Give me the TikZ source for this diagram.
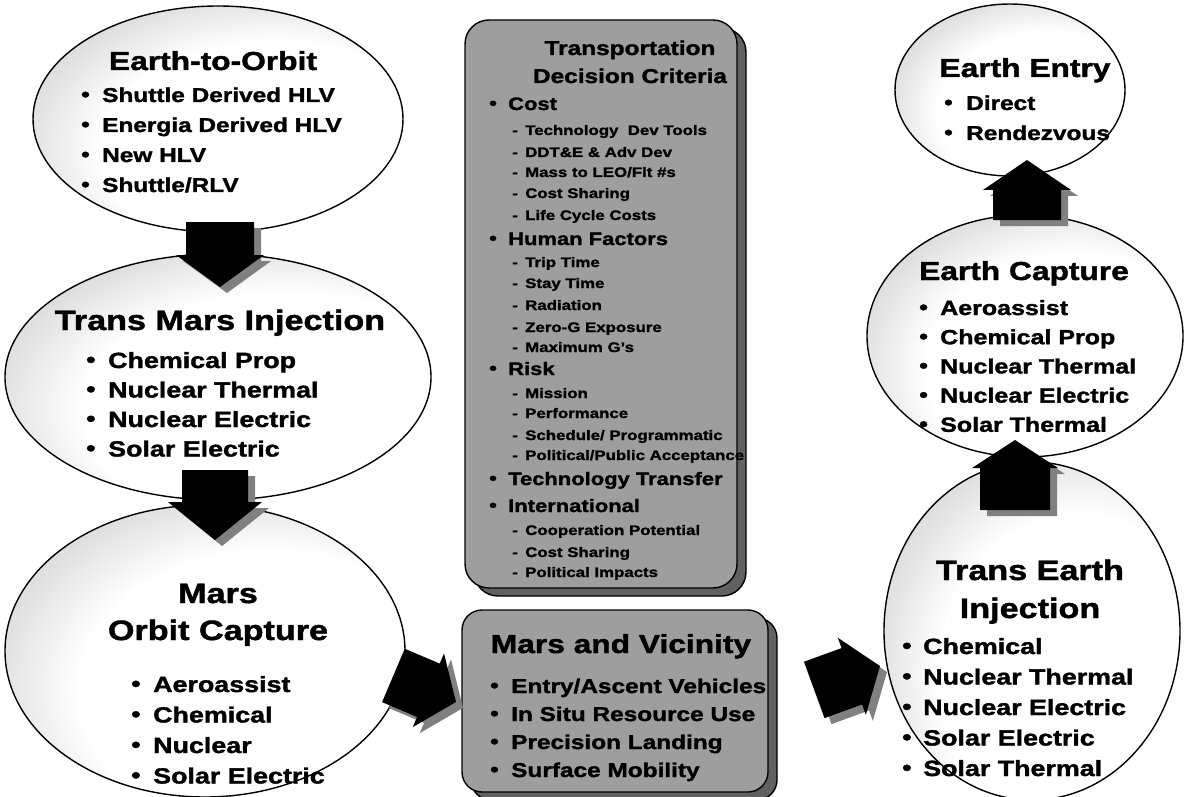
\documentclass[tikz,border=0pt]{standalone}
\usepackage{fontspec}
\setmainfont{Liberation Sans}[FakeStretch=1.22, BoldFeatures={FakeBold=1.6}]
\usetikzlibrary{shapes.geometric}

% light centre, grey rim
\pgfdeclareradialshading{ellshade}{\pgfpoint{12bp}{-10bp}}{%
  color(0bp)=(white); color(24bp)=(white); color(40bp)=(black!22);
  color(50bp)=(black!42); color(75bp)=(black!42)}

\newcommand{\bsym}[1]{\makebox[#1pt][l]{\raisebox{0.04em}{•}}}
\newcommand{\dsym}[1]{\makebox[#1pt][l]{-}}

% block arrow: tip x, tip y, angle, length, shaft half width, head half width, head length
\newcommand{\blockarrow}[7]{%
  \begin{scope}[shift={(#1+7,#2+6)},rotate=#3]
    \fill[arrside] (0,0) -- (-#6,-#7) -- (-#5,-#7) -- (-#5,-#4) -- (#5,-#4) -- (#5,-#7) -- (#6,-#7) -- cycle;
  \end{scope}
  \begin{scope}[shift={(#1,#2)},rotate=#3]
    \fill[arrface] (0,0) -- (-#6,-#7) -- (-#5,-#7) -- (-#5,-#4) -- (#5,-#4) -- (#5,-#7) -- (#6,-#7) -- cycle;
  \end{scope}}

\tikzset{
  ell/.style={ellipse, draw=black, line width=1.4pt, shade, shading=ellshade, inner sep=0pt, outer sep=0pt},
  critbox/.style={draw=black, line width=1.4pt, fill=black!38, rounded corners=24pt, inner sep=0pt},
  boxshadow/.style={draw=black, line width=1.4pt, fill=black!62, rounded corners=24pt, inner sep=0pt},
  ttl/.style={anchor=base, inner sep=0pt, font=\bfseries},
  itm/.style={anchor=base west, inner sep=0pt, font=\bfseries},
  arrface/.style={fill=black},
  arrside/.style={fill=black!50},
}

\begin{document}
\begin{tikzpicture}[x=1pt,y=-1pt]
\useasboundingbox (0,0) rectangle (1184,797);
\fill[white] (0,0) rectangle (1184,797);

% ---------- ellipses ----------
\node[ell, minimum width=370pt, minimum height=226pt] (eto)  at (218,119) {};
\node[ell, minimum width=426pt, minimum height=246pt] (tmi)  at (218,377) {};
\node[ell, minimum width=400pt, minimum height=292pt] (moc)  at (205,651) {};
\node[ell, minimum width=230pt, minimum height=172pt] (ent)  at (1010,90) {};
\node[ell, minimum width=316pt, minimum height=242pt] (ecap) at (1025,336) {};
\node[ell, minimum width=296pt, minimum height=338pt] (tei)  at (1032,631) {};

% ---------- central boxes ----------
\node[boxshadow, minimum width=272pt, minimum height=568pt] (critsh) at (610,312) {};
\node[critbox,   minimum width=272pt, minimum height=568pt] (crit)   at (601,304) {};
\node[boxshadow, minimum width=306pt, minimum height=182pt, rounded corners=20pt] (marssh) at (624,709) {};
\node[critbox,   minimum width=306pt, minimum height=182pt, rounded corners=20pt] (mars)   at (615,701) {};

% ---------- arrows ----------
\blockarrow{220}{287}{0}{65}{34}{44}{32}
\blockarrow{215}{540}{0}{70}{33}{47}{38}
\blockarrow{456}{702}{67}{68}{29}{40}{30}
\blockarrow{880}{666}{110}{70}{30}{41}{30}
\blockarrow{1027}{160}{180}{60}{34}{44}{30}
\blockarrow{1015}{440}{180}{70}{35}{43}{28}

% ---------- Earth-to-Orbit ----------
\node[ttl, font=\bfseries\fontsize{26}{30}\selectfont] (etot) at (213,70) {Earth-to-Orbit};
\foreach \t [count=\i] in {Shuttle Derived HLV, Energia Derived HLV, New HLV, Shuttle/RLV}
  \node[itm, font=\bfseries\fontsize{20}{24}\selectfont] (etoi\i) at (81,{102+(\i-1)*30}) {\bsym{21}\t};

% ---------- Trans Mars Injection ----------
\node[ttl, font=\bfseries\fontsize{28}{32}\selectfont] (tmit) at (220,330) {Trans Mars Injection};
\foreach \t [count=\i] in {Chemical Prop, Nuclear Thermal, Nuclear Electric, Solar Electric}
  \node[itm, font=\bfseries\fontsize{22}{26}\selectfont] (tmii\i) at (86,{368+(\i-1)*29.5}) {\bsym{22}\t};

% ---------- Mars Orbit Capture ----------
\node[ttl, font=\bfseries\fontsize{28}{32}\selectfont] (moct1) at (218,603) {Mars};
\node[ttl, font=\bfseries\fontsize{28}{32}\selectfont] (moct2) at (218,640) {Orbit Capture};
\foreach \t [count=\i] in {Aeroassist, Chemical, Nuclear, Solar Electric}
  \node[itm, font=\bfseries\fontsize{22}{26}\selectfont] (moci\i) at (131,{692+(\i-1)*30.5}) {\bsym{22}\t};

% ---------- Transportation Decision Criteria ----------
\node[ttl, font=\bfseries\fontsize{20}{24}\selectfont] (critt1) at (630,55) {Transportation};
\node[ttl, font=\bfseries\fontsize{20}{24}\selectfont] (critt2) at (630,83) {Decision Criteria};
\foreach \yy/\t [count=\i] in {110/Cost, 245/{Human Factors}, 375/Risk, 485/{Technology Transfer}, 512/International}
  \node[itm, font=\bfseries\fontsize{18}{22}\selectfont] (crita\i) at (489,\yy) {\bsym{19}\t};
\foreach \yy/\t [count=\i] in {135/{Technology\ \ Dev Tools}, 157/{DDT\&E \& Adv Dev}, 177/{Mass to LEO/Flt \#s},
    198/{Cost Sharing}, 220/{Life Cycle Costs}, 267/{Trip Time}, 288/{Stay Time}, 310/Radiation,
    332/{Zero-G Exposure}, 352/{Maximum G's}, 398/Mission, 418/Performance, 440/{Schedule/ Programmatic},
    460/{Political/Public Acceptance}, 535/{Cooperation Potential}, 557/{Cost Sharing}, 577/{Political Impacts}}
  \node[itm, font=\bfseries\fontsize{13.8}{18}\selectfont] (critb\i) at (512,\yy) {\dsym{13}\t};

% ---------- Mars and Vicinity ----------
\node[ttl, font=\bfseries\fontsize{26}{30}\selectfont] (marst) at (621,653) {Mars and Vicinity};
\foreach \t [count=\i] in {Entry/Ascent Vehicles, In Situ Resource Use, Precision Landing, Surface Mobility}
  \node[itm, font=\bfseries\fontsize{20}{24}\selectfont] (marsi\i) at (490,{693+(\i-1)*28}) {\bsym{21}\t};

% ---------- Earth Entry ----------
\node[ttl, font=\bfseries\fontsize{26}{30}\selectfont] (entt) at (1025,77) {Earth Entry};
\foreach \t [count=\i] in {Direct, Rendezvous}
  \node[itm, font=\bfseries\fontsize{20}{24}\selectfont] (enti\i) at (944,{110+(\i-1)*30}) {\bsym{22}\t};

% ---------- Earth Capture ----------
\node[ttl, font=\bfseries\fontsize{26}{30}\selectfont] (ecapt) at (1024,280) {Earth Capture};
\foreach \t [count=\i] in {Aeroassist, Chemical Prop, Nuclear Thermal, Nuclear Electric, Solar Thermal}
  \node[itm, font=\bfseries\fontsize{20.5}{24}\selectfont] (ecapi\i) at (919,{315+(\i-1)*29.2}) {\bsym{21}\t};

% ---------- Trans Earth Injection ----------
\node[ttl, font=\bfseries\fontsize{28}{32}\selectfont] (teit1) at (1030,580) {Trans Earth};
\node[ttl, font=\bfseries\fontsize{28}{32}\selectfont] (teit2) at (1030,618) {Injection};
\foreach \t [count=\i] in {Chemical, Nuclear Thermal, Nuclear Electric, Solar Electric, Solar Thermal}
  \node[itm, font=\bfseries\fontsize{22}{26}\selectfont] (teii\i) at (902,{654+(\i-1)*30.5}) {\bsym{21}\t};
\end{tikzpicture}
\end{document}
